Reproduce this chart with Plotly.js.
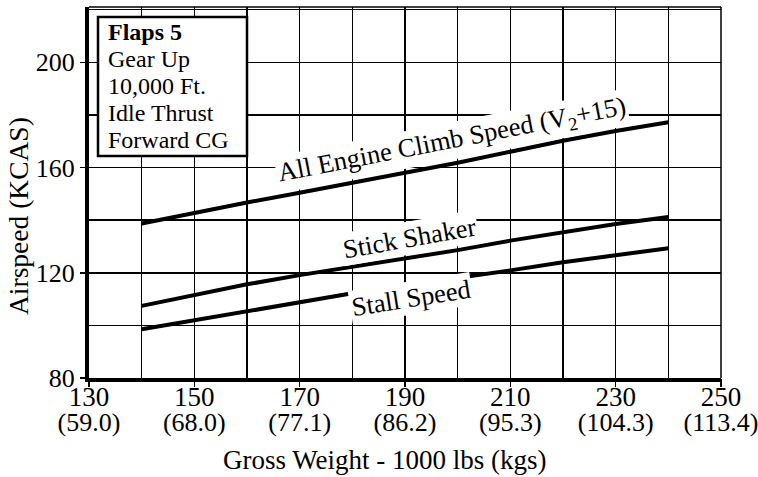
<!DOCTYPE html>
<html>
<head>
<meta charset="utf-8">
<script src="https://cdn.plot.ly/plotly-3.0.1.min.js"></script>
<style>html,body{margin:0;padding:0;background:#fff;}#chart{width:758px;height:477px;}</style>
</head>
<body>
<div id="chart"></div>
<script>
// ---- data ----
var weights = [140, 150, 160, 170, 180, 190, 200, 210, 220, 230, 240];
var climbSpeed = [138.7, 142.8, 146.7, 150.4, 154.1, 157.9, 161.8, 166.0, 170.2, 173.9, 177.2];
var stickShaker = [107.4, 111.6, 115.6, 119.1, 122.3, 125.7, 128.6, 132.2, 135.5, 138.5, 141.2];
var stallSpeed = [98.5, 101.9, 105.3, 108.7, 112.2, 115.2, 117.9, 120.9, 124.0, 126.6, 129.3];

var xGridVals = [130, 140, 150, 160, 170, 180, 190, 200, 210, 220, 230, 240, 250];
var yGridVals = [80, 100, 120, 140, 160, 180, 200, 220];
var xTickVals = [130, 150, 170, 190, 210, 230, 250];
var xTickLbs = ['130', '150', '170', '190', '210', '230', '250'];
var xTickKgs = ['(59.0)', '(68.0)', '(77.1)', '(86.2)', '(95.3)', '(104.3)', '(113.4)'];
var yTickVals = [80, 120, 160, 200];
var yTickLbs = ['80', '120', '160', '200'];

var curveNames = ['All Engine Climb Speed (V<sub>2</sub>+15)', 'Stick Shaker', 'Stall Speed'];
var curveLabelX = [198.9, 190.8, 191.1];
var curveLabelY = [170.2, 133.3, 110.4];
var boxLines = ['<b>Flaps 5</b>', 'Gear Up', '10,000 Ft.', 'Idle Thrust', 'Forward CG'];

var xTitle = 'Gross Weight - 1000 lbs (kgs)';
var yTitle = 'Airspeed (KCAS)';

// ---- chart ----
var FONT = 'Liberation Serif, serif';
function tfont(size) { return {family: FONT, size: size, color: '#000'}; }
var lineStyle = {color: '#000', width: 4};
var traces = [climbSpeed, stickShaker, stallSpeed].map(function (ys) {
  return {x: weights, y: ys, type: 'scatter', mode: 'lines', line: lineStyle, hoverinfo: 'skip', showlegend: false};
});
// invisible traces so the overlay axes (labels) are drawn
traces.push({x: [130], y: [80], xaxis: 'x2', yaxis: 'y2', type: 'scatter', mode: 'markers', marker: {opacity: 0}, showlegend: false, hoverinfo: 'skip'});
traces.push({x: [130], y: [80], xaxis: 'x3', yaxis: 'y', type: 'scatter', mode: 'markers', marker: {opacity: 0}, showlegend: false, hoverinfo: 'skip'});

var L = 89, R = 37, T = 7, B = 99;
var W = 758 - L - R, H = 477 - T - B;
function px(x) { return (x - L) / W; }
function py(y) { return (477 - B - y) / H; }

var annotations = [];
curveNames.forEach(function (t, i) {
  annotations.push({
    x: curveLabelX[i], y: curveLabelY[i], xref: 'x', yref: 'y', text: t, showarrow: false,
    xanchor: 'center', yanchor: 'middle',
    textangle: [-11, -10, -9][i], bgcolor: '#fff', borderpad: 1, font: tfont(26.5)
  });
});
boxLines.forEach(function (t, i) {
  annotations.push({
    x: px(106), y: py(32 + 27 * i), xref: 'paper', yref: 'paper', xanchor: 'left', yanchor: 'middle',
    text: t, showarrow: false, font: tfont(24)
  });
});
annotations.push({x: px(19), y: py(216), xref: 'paper', yref: 'paper', xanchor: 'center', yanchor: 'middle',
  text: yTitle, textangle: -90, showarrow: false, font: tfont(27.5)});
annotations.push({x: px(385), y: py(460), xref: 'paper', yref: 'paper', xanchor: 'center', yanchor: 'middle',
  text: xTitle, showarrow: false, font: tfont(27)});

var gridW = 1.5;
var layout = {
  width: 758, height: 477,
  margin: {l: L, r: R, t: T, b: B, pad: 0},
  paper_bgcolor: '#fff', plot_bgcolor: '#fff',
  showlegend: false,
  font: tfont(24),
  // grid + thick axis lines
  xaxis: {
    range: [130, 250], tickmode: 'array', tickvals: xGridVals, showticklabels: false, ticks: '',
    showgrid: true, gridcolor: '#000', gridwidth: gridW,
    showline: true, linecolor: '#000', linewidth: 4, zeroline: false
  },
  yaxis: {
    range: [80, 221], tickmode: 'array', tickvals: yGridVals, showticklabels: false, ticks: '',
    showgrid: true, gridcolor: '#000', gridwidth: gridW,
    showline: true, linecolor: '#000', linewidth: 4, zeroline: false
  },
  // labelled ticks (lbs)
  xaxis2: {
    range: [130, 250], overlaying: 'x', anchor: 'y2', side: 'bottom',
    tickmode: 'array', tickvals: xTickVals, ticktext: xTickLbs,
    showgrid: false, zeroline: false, showline: false,
    ticks: 'outside', ticklen: 8, tickwidth: 1.5, tickcolor: '#000', ticklabelstandoff: -13,
    ticklabeloverflow: 'allow', tickfont: tfont(27)
  },
  yaxis2: {
    range: [80, 221], overlaying: 'y', anchor: 'x2', side: 'left',
    tickmode: 'array', tickvals: yTickVals, ticktext: yTickLbs,
    showgrid: false, zeroline: false, showline: false,
    ticks: 'outside', ticklen: 8, tickwidth: 1.5, tickcolor: '#000',
    tickfont: tfont(26)
  },
  // kg labels
  xaxis3: {
    range: [130, 250], overlaying: 'x', anchor: 'y', side: 'bottom',
    tickmode: 'array', tickvals: xTickVals, ticktext: xTickKgs,
    showgrid: false, zeroline: false, showline: false,
    ticks: 'outside', ticklen: 8, tickcolor: 'rgba(0,0,0,0)', ticklabelstandoff: 13,
    ticklabeloverflow: 'allow', tickfont: tfont(26)
  },
  shapes: [
    {type: 'line', xref: 'paper', yref: 'paper', x0: 0, x1: 1, y0: 1, y1: 1, line: {color: '#000', width: 1.5}},
    {type: 'line', xref: 'paper', yref: 'paper', x0: 1, x1: 1, y0: 0, y1: 1, line: {color: '#000', width: 1.5}},
    {type: 'rect', xref: 'paper', yref: 'paper', x0: px(98), x1: px(247), y0: py(156), y1: py(17),
      fillcolor: '#fff', line: {color: '#000', width: 2.5}, layer: 'above'}
  ],
  annotations: annotations
};

Plotly.newPlot('chart', traces, layout, {staticPlot: true, displayModeBar: false});
</script>
</body>
</html>
